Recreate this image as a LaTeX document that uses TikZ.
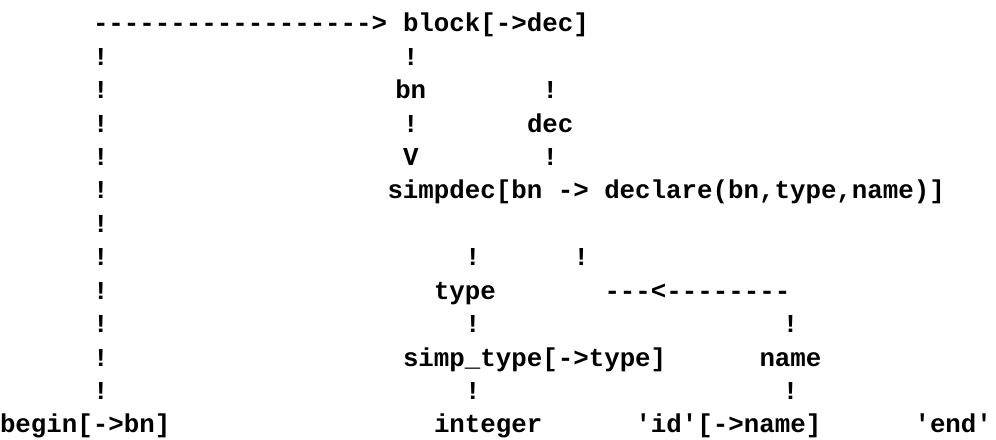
\documentclass[tikz,border=0pt]{standalone}
\usepackage{fontspec}
\newfontfamily\tw{Liberation Mono}
\tikzset{tw/.style={font=\tw\bfseries\fontsize{25.9pt}{30pt}\selectfont, anchor=base west, inner sep=0pt, outer sep=0pt, text=black}}
\begin{document}
\begin{tikzpicture}[x=1bp,y=-1bp]
\useasboundingbox[fill=white] (0,0) rectangle (996,440);
\begin{scope}[x=15.5bp, y=-33.4bp, yshift=-32bp]
% row 0
\node[tw] (top) at (6,0) {------------------>};
\node[tw] (block) at (26,0) {block[->dec]};
% left column of bars
\foreach \r in {1,...,11} \node[tw] (l\r) at (6,\r) {!};
% block -> simpdec
\node[tw] (b1) at (26,1) {!};
\node[tw] (bn) at (25.5,2) {bn};
\node[tw] (d2) at (35,2) {!};
\node[tw] (b3) at (26,3) {!};
\node[tw] (dec) at (34,3) {dec};
\node[tw] (v) at (26,4) {V};
\node[tw] (d4) at (35,4) {!};
\node[tw] (simpdec) at (25,5) {simpdec[bn -> declare(bn,type,name)]};
% type and name branches
\node[tw] (t7) at (30,7) {!};
\node[tw] (n7) at (37,7) {!};
\node[tw] (type) at (28,8) {type};
\node[tw] (back) at (39,8) {---<--------};
\node[tw] (t9) at (30,9) {!};
\node[tw] (n9) at (50.5,9) {!};
\node[tw] (simptype) at (26,10) {simp\_type[->type]};
\node[tw] (name) at (49,10) {name};
\node[tw] (t11) at (30,11) {!};
\node[tw] (n11) at (50.5,11) {!};
% bottom row
\node[tw] (begin) at (0,12) {begin[->bn]};
\node[tw] (integer) at (28,12) {integer};
\node[tw] (id) at (41,12) {'id'[->name]};
\node[tw] (end) at (59,12) {'end'};
\end{scope}
\end{tikzpicture}
\end{document}
